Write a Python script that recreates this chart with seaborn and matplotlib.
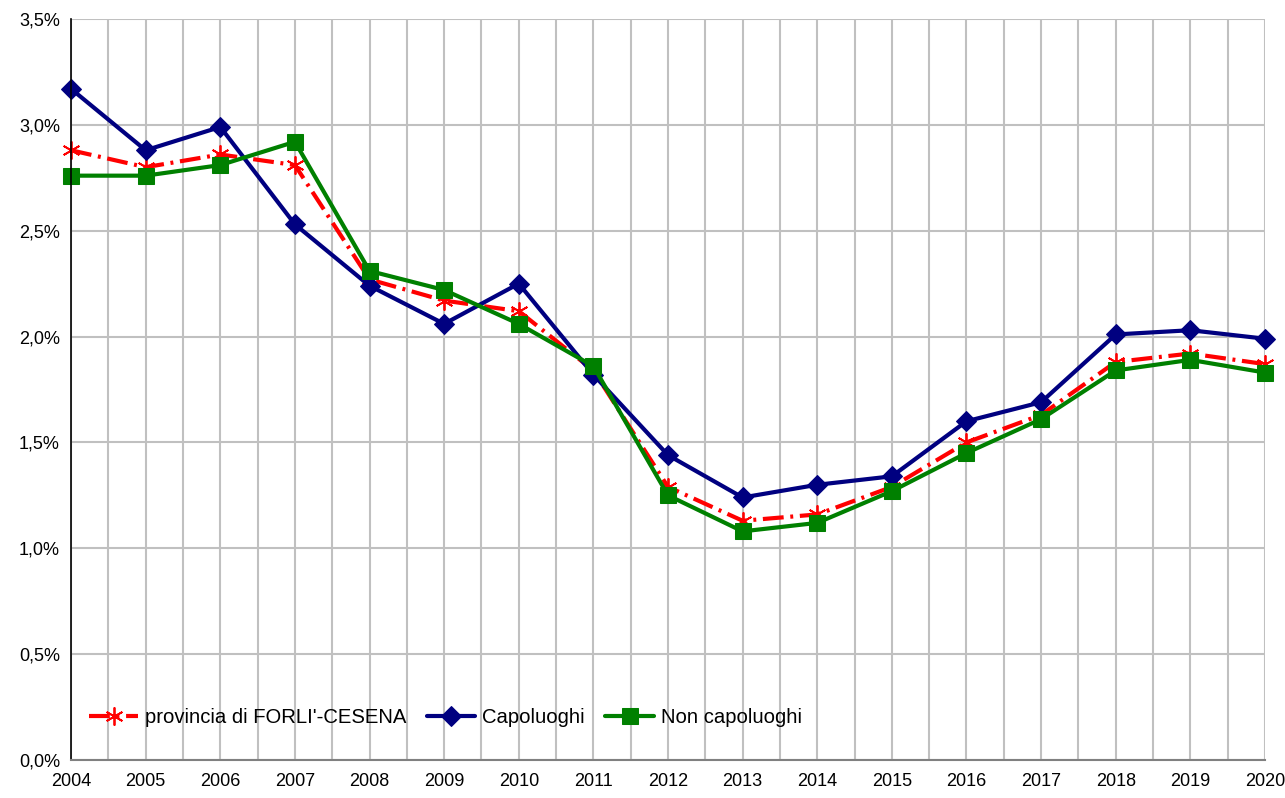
import numpy as np
import pandas as pd
import seaborn as sns
import matplotlib
matplotlib.use('Agg')
import matplotlib.pyplot as plt
from matplotlib.ticker import FuncFormatter, MultipleLocator

years = list(range(2004, 2021))
provincia = [2.88, 2.80, 2.86, 2.81, 2.27, 2.17, 2.12, 1.84, 1.29, 1.13, 1.16,
             1.29, 1.50, 1.63, 1.88, 1.92, 1.87]
capoluoghi = [3.17, 2.88, 2.99, 2.53, 2.24, 2.06, 2.25, 1.82, 1.44, 1.24, 1.30,
              1.34, 1.60, 1.69, 2.01, 2.03, 1.99]
non_capoluoghi = [2.76, 2.76, 2.81, 2.92, 2.31, 2.22, 2.06, 1.86, 1.25, 1.08, 1.12,
                  1.27, 1.45, 1.61, 1.84, 1.89, 1.83]
labels = ["provincia di FORLI'-CESENA", "Capoluoghi", "Non capoluoghi"]

sns.set_style('white')
plt.rcParams['font.family'] = ['Liberation Sans', 'DejaVu Sans']
plt.rcParams['text.color'] = 'black'
plt.rcParams['xtick.color'] = 'black'
plt.rcParams['ytick.color'] = 'black'

fig = plt.figure(figsize=(12.85, 7.98), dpi=100)
ax = fig.add_axes([0.0553, 0.0476, 0.9291, 0.9286])

# Red: dash-dot with asterisk markers
sns.lineplot(x=years, y=provincia, ax=ax, color='#ff0000', linewidth=3,
             linestyle=(0, (5, 1.6, 0.7, 1.6)),
             marker=(6, 2, 0), markersize=13, markeredgewidth=1.3,
             markeredgecolor='#ff0000', label=labels[0], clip_on=False)

sns.lineplot(x=years, y=capoluoghi, ax=ax, color='#000080', linewidth=3,
             marker='D', markersize=10, markeredgecolor='#000080',
             label=labels[1], clip_on=False)
sns.lineplot(x=years, y=non_capoluoghi, ax=ax, color='#008000', linewidth=3,
             marker='s', markersize=11, markeredgecolor='#008000',
             label=labels[2], clip_on=False)

ax.set_xlim(2004, 2020)
ax.set_ylim(0, 3.5)
ax.xaxis.set_major_locator(MultipleLocator(1))
ax.xaxis.set_minor_locator(MultipleLocator(0.5))
ax.yaxis.set_major_locator(MultipleLocator(0.5))
ax.yaxis.set_major_formatter(FuncFormatter(lambda v, p: f'{v:.1f}%'.replace('.', ',')))
ax.xaxis.set_major_formatter(FuncFormatter(lambda v, p: f'{int(v)}'))

ax.grid(True, which='both', axis='x', color='#c0c0c0', linewidth=1.5)
ax.grid(True, which='major', axis='y', color='#c0c0c0', linewidth=1.5)
ax.set_axisbelow(True)

for s in ['top', 'right']:
    ax.spines[s].set_visible(False)
ax.spines['left'].set_color('black')
ax.spines['left'].set_linewidth(1.2)
ax.spines['bottom'].set_color('#808080')
ax.spines['bottom'].set_linewidth(1.5)

ax.tick_params(axis='x', which='major', direction='out', length=5, width=1,
               color='#808080', labelsize=13, pad=4)
ax.tick_params(axis='x', which='minor', length=0)
ax.tick_params(axis='y', direction='out', length=5, width=1, color='black',
               labelsize=13, pad=3)
ax.set_xlabel('')
ax.set_ylabel('')

ax.legend(loc='lower left', bbox_to_anchor=(0.0, 0.02), ncol=3, frameon=False,
          fontsize=14.6, handlelength=2.4, columnspacing=1.0, handletextpad=0.35)

fig.savefig('out.png', dpi=100)
